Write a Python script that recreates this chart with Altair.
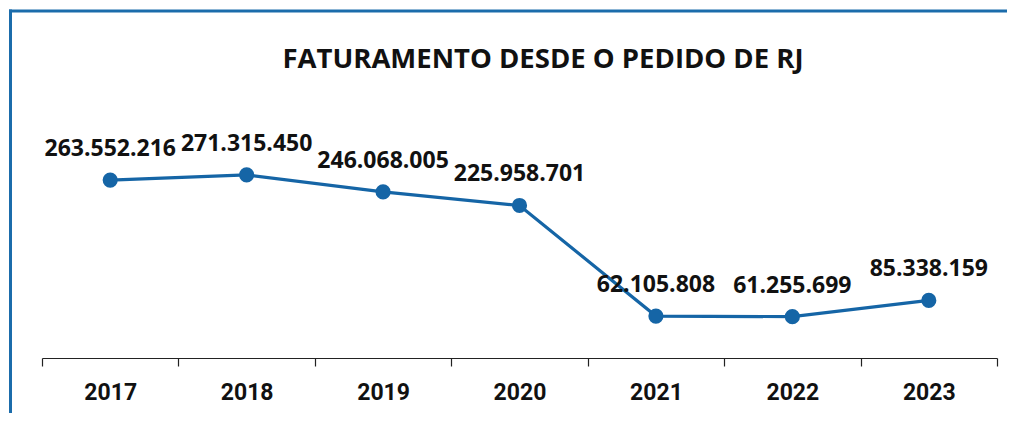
import altair as alt
import pandas as pd

years = ["2017", "2018", "2019", "2020", "2021", "2022", "2023"]
values = [263552216, 271315450, 246068005, 225958701, 62105808, 61255699, 85338159]
labels = [f"{v:,}".replace(",", ".") for v in values]
title_text = "FATURAMENTO DESDE O PEDIDO DE RJ"

df = pd.DataFrame({"ano": years, "valor": values, "rotulo": labels})

W, H = 955, 270
BLUE = "#1565a6"

x_enc = alt.X("ano:O", scale=alt.Scale(type="band", paddingInner=0, paddingOuter=0),
              bandPosition=0.5,
              axis=alt.Axis(title=None, labelAngle=0, tickBand="extent", tickSize=8,
                            tickColor="#222", domainColor="#222", tickWidth=1.2, domainWidth=1.2,
                            labelFont="Roboto", labelFontWeight="bold", labelFontSize=23,
                            labelColor="#111", labelBaseline="alphabetic", labelPadding=33,
                            grid=False))
y_enc = alt.Y("valor:Q", scale=alt.Scale(domain=[0, 400000000]), axis=None)

base = alt.Chart(df)

line = base.mark_line(color=BLUE, strokeWidth=3.2).encode(x=x_enc, y=y_enc)
pts = base.mark_point(filled=True, color=BLUE, size=230, opacity=1).encode(x=x_enc, y=y_enc)
txt = base.mark_text(font="Open Sans", fontWeight="bold", fontSize=23, color="#111",
                     baseline="alphabetic", dy=-24).encode(x=x_enc, y=y_enc, text="rotulo:N")

frame = pd.DataFrame({"k": [0]})
title = alt.Chart(frame).mark_text(text=title_text, font="Open Sans", fontWeight="bold",
                                   fontSize=27.5, color="#111", baseline="alphabetic",
                                   align="center").encode(x=alt.value(501), y=alt.value(-20))
left_border = alt.Chart(frame).mark_rule(color="#1b6cab", strokeWidth=3).encode(
    x=alt.value(-31.5), y=alt.value(-78.5), y2=alt.value(340))
top_border = alt.Chart(frame).mark_rule(color="#1b6cab", strokeWidth=3).encode(
    x=alt.value(-33), x2=alt.value(W + 20), y=alt.value(-77))

chart = alt.layer(left_border, top_border, title, line, pts, txt).properties(
    width=W, height=H,
    background="white",
    autosize=alt.AutoSizeParams(type="none"),
    padding={"left": 34, "top": 80, "right": 10, "bottom": 55},
).configure_view(strokeWidth=0, stroke="transparent")

chart.save("out.html", embed_options={"renderer": "svg", "actions": False})
